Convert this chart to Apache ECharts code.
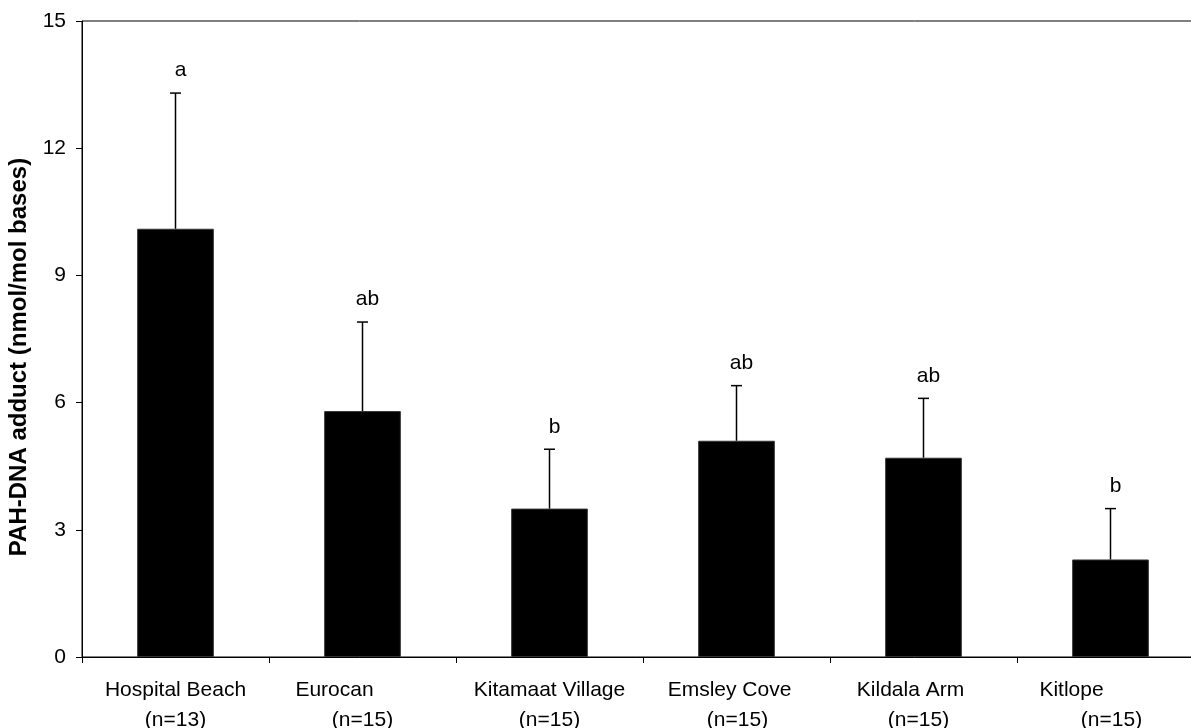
<!DOCTYPE html>
<html>
<head>
<meta charset="utf-8">
<script src="https://cdn.jsdelivr.net/npm/echarts@6/dist/echarts.min.js"></script>
<style>
html,body{margin:0;padding:0;background:#fff;}
#chart{width:1191px;height:728px;}
</style>
</head>
<body>
<div id="chart"></div>
<script>
// ---- data ----
const categories = ['Hospital Beach', 'Eurocan', 'Kitamaat Village', 'Emsley Cove', 'Kildala Arm', 'Kitlope'];
const sampleSizes = ['(n=13)', '(n=15)', '(n=15)', '(n=15)', '(n=15)', '(n=15)'];
const means = [10.1, 5.8, 3.5, 5.1, 4.7, 2.3];
const errorTops = [13.3, 7.9, 4.9, 6.4, 6.1, 3.5];
const letters = ['a', 'ab', 'b', 'ab', 'ab', 'b'];
const yMin = 0, yMax = 15, yStep = 3;
const yTitle = 'PAH-DNA adduct (nmol/mol bases)';

// ---- label layout tweaks (horizontal shifts of each label line, px) ----
const nameShift = [0, -28, 0, -7, -13, -39];
const countShift = [0, 0, 0, 1, -5, 1];

const FONT = 'Liberation Sans, Arial, Helvetica, sans-serif';
const FS = 21;
const rich = {};
categories.forEach((c, i) => {
  const p1 = nameShift[i], p2 = countShift[i];
  rich['l' + i] = {align: 'center', fontSize: FS, fontFamily: FONT, color: '#000', lineHeight: 30,
    padding: [0, p1 < 0 ? -2 * p1 : 0, 0, p1 > 0 ? 2 * p1 : 0]};
  rich['n' + i] = {align: 'center', fontSize: FS, fontFamily: FONT, color: '#000', lineHeight: 30,
    padding: [0, p2 < 0 ? -2 * p2 : 0, 0, p2 > 0 ? 2 * p2 : 0]};
});

const chart = echarts.init(document.getElementById('chart'), null, {renderer: 'canvas'});
const option = {
  animation: false,
  backgroundColor: '#fff',
  grid: {left: 82, right: -13, top: 21, bottom: 71, containLabel: false, outerBoundsMode: 'none',
         show: true, borderColor: '#000', borderWidth: 1},
  xAxis: {
    type: 'category',
    data: categories,
    axisLine: {lineStyle: {color: '#000', width: 1}},
    axisTick: {show: true, length: 6, lineStyle: {color: '#000'}},
    axisLabel: {
      interval: 0, margin: 18, hideOverlap: false,
      formatter: (v, i) => '{l' + i + '|' + v + '}\n{n' + i + '|' + sampleSizes[i] + '}',
      rich: rich
    },
    splitLine: {show: false}
  },
  yAxis: {
    type: 'value', min: yMin, max: yMax, interval: yStep,
    name: yTitle, nameLocation: 'middle', nameGap: 50, nameRotate: 90,
    nameTextStyle: {fontSize: 24, fontWeight: 'bold', fontFamily: FONT, color: '#000', padding: [0, 36, 0, 0]},
    axisLine: {show: true, lineStyle: {color: '#000', width: 1}},
    axisTick: {show: true, length: 6, lineStyle: {color: '#000'}},
    axisLabel: {fontSize: FS, fontFamily: FONT, color: '#000', margin: 16},
    splitLine: {show: false}
  },
  series: [
    {
      type: 'bar', data: means, barWidth: '41%',
      itemStyle: {color: '#000', borderColor: '#333', borderWidth: 1}
    },
    {
      type: 'custom',
      data: categories.map((c, i) => [i, means[i], errorTops[i]]),
      z: 5,
      renderItem: function (params, api) {
        const i = api.value(0);
        const base = api.coord([i, api.value(1)]);
        const top = api.coord([i, api.value(2)]);
        const half = 5.5;
        return {
          type: 'group',
          children: [
            {type: 'line', shape: {x1: base[0], y1: base[1], x2: top[0], y2: top[1]},
             style: {stroke: '#000', lineWidth: 1.5}},
            {type: 'line', shape: {x1: top[0] - half, y1: top[1], x2: top[0] + half, y2: top[1]},
             style: {stroke: '#000', lineWidth: 1.5}},
            {type: 'text', x: top[0] + 5, y: top[1] - 12,
             style: {text: letters[i], fontSize: FS, fontFamily: FONT, fill: '#000',
                     align: 'center', verticalAlign: 'bottom'}}
          ]
        };
      }
    }
  ]
};
chart.setOption(option);
</script>
</body>
</html>
